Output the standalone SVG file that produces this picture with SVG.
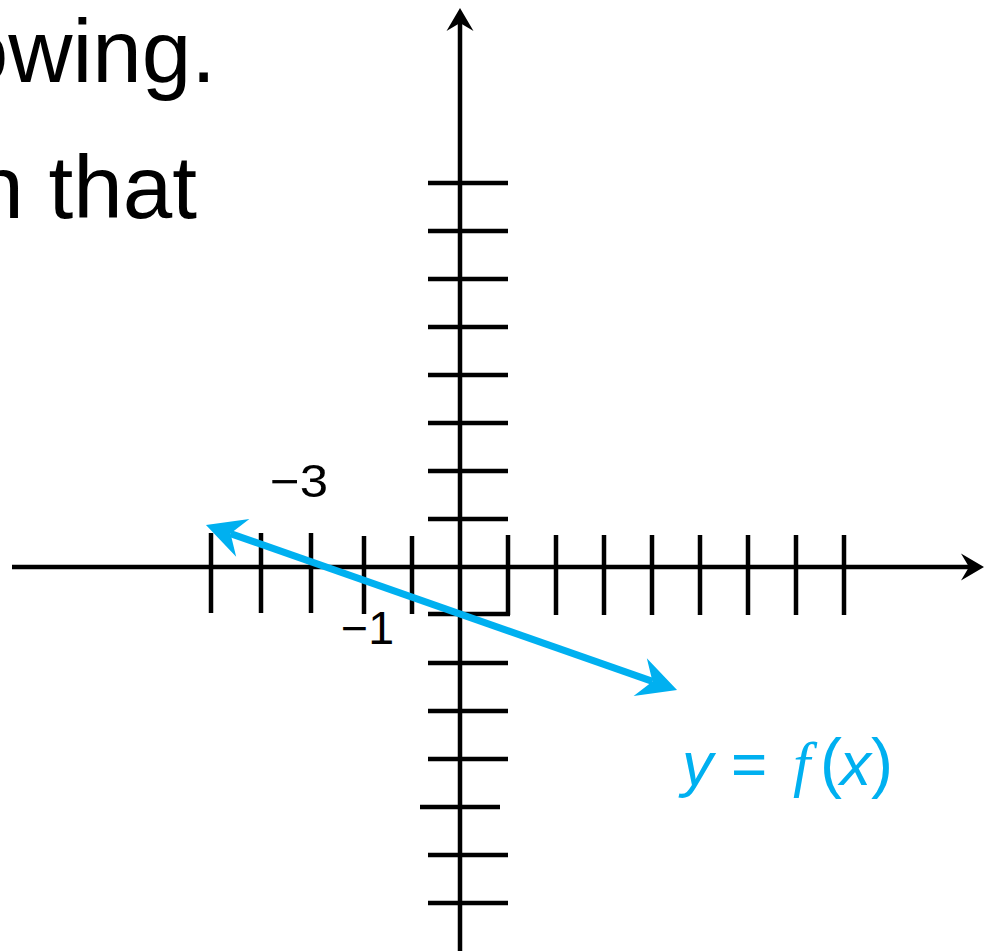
<svg xmlns="http://www.w3.org/2000/svg" width="984" height="951" viewBox="0 0 984 951">
  <style>
    .ax { stroke: #000; stroke-width: 4.5; fill: none; }
    .tk { stroke: #000; stroke-width: 4.5; fill: none; }
    .txt { font-family: "Liberation Sans", Arial, sans-serif; fill: #000; }
    .blue { stroke: #00B0F0; stroke-width: 7; fill: none; }
    .lbl { font-family: "Liberation Sans", Arial, sans-serif; fill: #00B0F0; font-size: 62px; }
    .lbl .mf { font-family: "Liberation Serif", "Times New Roman", serif; font-style: italic; }
  </style>
  <defs>
    <marker id="ahBlack" markerUnits="userSpaceOnUse" viewBox="-10 -15 28 30" markerWidth="28" markerHeight="30" refX="0" refY="0" orient="auto-start-reverse">
      <path d="M15,0 L-8,-13.5 L0,0 L-8,13.5 Z" fill="#000"/>
    </marker>
    <marker id="ahBlue" markerUnits="userSpaceOnUse" viewBox="-15 -22 44 44" markerWidth="44" markerHeight="44" refX="0" refY="0" orient="auto-start-reverse">
      <path d="M26,0 L-13,-20 L0,0 L-13,20 Z" fill="#00B0F0"/>
    </marker>
  </defs>

  <g id="text-top" class="txt" font-size="89">
    <text x="216" y="82" text-anchor="end">owing.</text>
    <text x="197" y="218" text-anchor="end">n that</text>
  </g>

  <g id="connectors">
    <line id="x-axis" class="ax" x1="12" y1="567" x2="969" y2="567" marker-end="url(#ahBlack)"/>
    <line id="y-axis" class="ax" x1="460" y1="951" x2="460" y2="23" marker-end="url(#ahBlack)"/>
  </g>

  <g id="x-ticks" class="tk">
    <line x1="211" y1="533" x2="211" y2="613"/>
    <line x1="261" y1="533" x2="261" y2="613"/>
    <line x1="311" y1="533" x2="311" y2="613"/>
    <line x1="364" y1="536" x2="364" y2="614"/>
    <line x1="412" y1="536" x2="412" y2="614"/>
    <line x1="508" y1="535" x2="508" y2="615"/>
    <line x1="556" y1="535" x2="556" y2="615"/>
    <line x1="604" y1="535" x2="604" y2="615"/>
    <line x1="652" y1="535" x2="652" y2="615"/>
    <line x1="700" y1="535" x2="700" y2="615"/>
    <line x1="748" y1="535" x2="748" y2="615"/>
    <line x1="796" y1="535" x2="796" y2="615"/>
    <line x1="844" y1="535" x2="844" y2="615"/>
  </g>

  <g id="y-ticks" class="tk">
    <line x1="428" y1="183" x2="508" y2="183"/>
    <line x1="428" y1="231" x2="508" y2="231"/>
    <line x1="428" y1="279" x2="508" y2="279"/>
    <line x1="428" y1="327" x2="508" y2="327"/>
    <line x1="428" y1="375" x2="508" y2="375"/>
    <line x1="428" y1="423" x2="508" y2="423"/>
    <line x1="428" y1="471" x2="508" y2="471"/>
    <line x1="428" y1="519" x2="508" y2="519"/>
    <line x1="428" y1="614" x2="510" y2="614"/>
    <line x1="428" y1="663" x2="508" y2="663"/>
    <line x1="428" y1="711" x2="508" y2="711"/>
    <line x1="428" y1="759" x2="508" y2="759"/>
    <line x1="420" y1="807" x2="500" y2="807"/>
    <line x1="428" y1="855" x2="508" y2="855"/>
    <line x1="428" y1="903" x2="508" y2="903"/>
  </g>

  <g id="tick-labels" class="txt" font-size="46">
    <text x="270" y="497" textLength="58" lengthAdjust="spacingAndGlyphs">−3</text>
    <text x="341" y="644" textLength="53" lengthAdjust="spacingAndGlyphs">−1</text>
  </g>

  <g id="function-line">
    <line class="blue" x1="230.5" y1="533.6" x2="652.5" y2="681.4" marker-start="url(#ahBlue)" marker-end="url(#ahBlue)"/>
  </g>

  <g id="function-label" class="lbl">
    <text x="682" y="785" font-style="italic">y</text>
    <text x="731" y="785">=</text>
    <text x="793" y="785" class="mf">f</text>
    <text x="820" y="785" font-size="66">(</text>
    <text x="840" y="785" font-style="italic">x</text>
    <text x="871" y="785" font-size="66">)</text>
  </g>
</svg>
